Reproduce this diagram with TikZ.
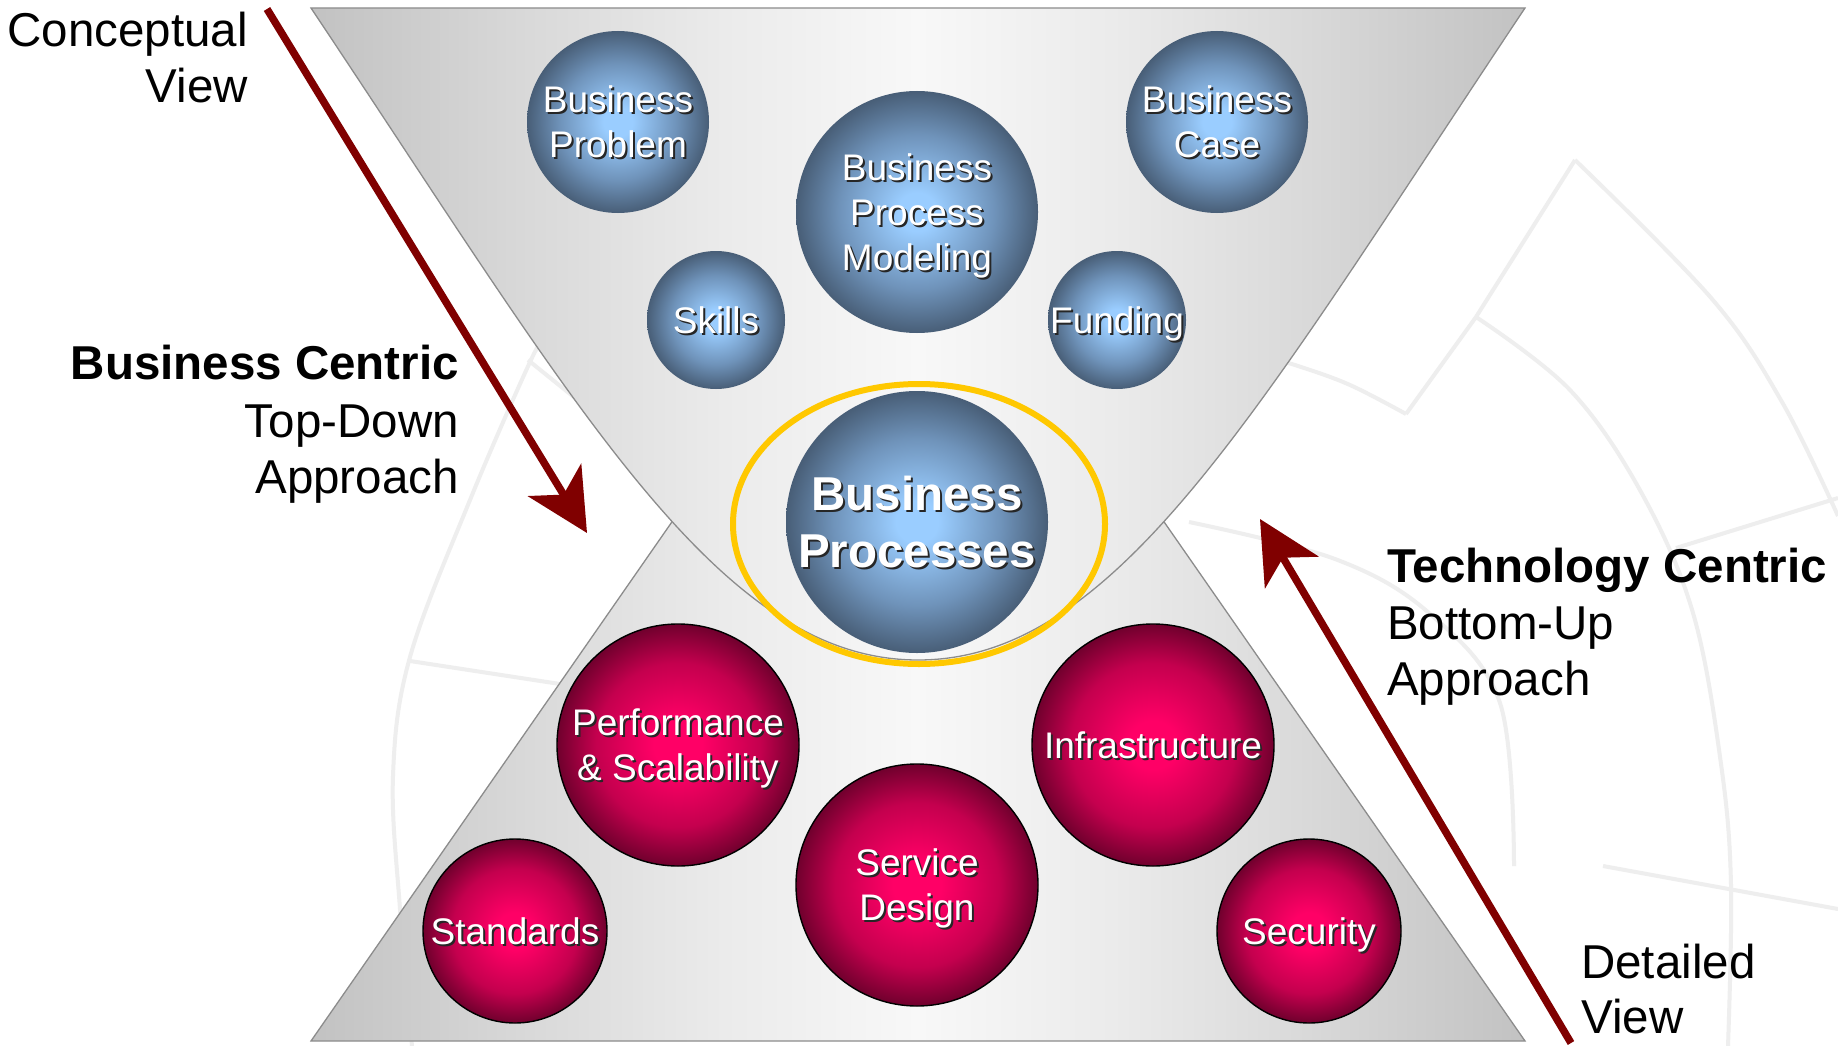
\documentclass[tikz,border=0pt]{standalone}
\usepackage{fontspec}
\setmainfont{Liberation Sans}
\usetikzlibrary{arrows.meta,shapes.geometric}
\definecolor{bsC}{HTML}{9ACDFF}
\definecolor{bsM}{HTML}{6F93BA}
\definecolor{bsE}{HTML}{485E77}
\definecolor{rsC}{HTML}{FF0066}
\definecolor{rsM}{HTML}{C4004E}
\definecolor{rsE}{HTML}{70002D}
\definecolor{ringc}{HTML}{FFC800}
\definecolor{arrowc}{HTML}{800000}
\definecolor{funnelE}{HTML}{C2C2C2}
\definecolor{funnelA}{HTML}{D9D9D9}
\definecolor{funnelB}{HTML}{EBEBEB}
\definecolor{funnelM}{HTML}{F8F8F8}
\definecolor{funnelL}{HTML}{8C8C8C}
\definecolor{wmark}{HTML}{EEEEEE}
\pgfdeclareradialshading{bluesphere}{\pgfpoint{0bp}{0bp}}{color(0bp)=(bsC); color(4bp)=(bsC); color(16bp)=(bsM); color(25bp)=(bsE); color(50bp)=(bsE)}
\pgfdeclareradialshading{redsphere}{\pgfpoint{0bp}{0bp}}{color(0bp)=(rsC); color(5bp)=(rsC); color(17bp)=(rsM); color(25bp)=(rsE); color(50bp)=(rsE)}
\pgfdeclarehorizontalshading{funnelshade}{100bp}{color(0bp)=(funnelE); color(25bp)=(funnelE); color(34bp)=(funnelA); color(42bp)=(funnelB); color(50bp)=(funnelM); color(58bp)=(funnelB); color(66bp)=(funnelA); color(75bp)=(funnelE); color(100bp)=(funnelE)}
\tikzset{
  bsph/.style={circle, inner sep=0pt, shading=bluesphere},
  rsph/.style={circle, inner sep=0pt, shading=redsphere, draw=black, line width=1.4pt},
  ctext/.style={align=center, text=white, font=\fontsize{37}{45}\selectfont, inner sep=0pt, text depth=0pt},
  btext/.style={align=center, text=white, font=\bfseries\fontsize{47.5}{57}\selectfont, inner sep=0pt, text depth=0pt},
  shadowtxt/.style={text=black!85, xshift=2pt, yshift=-2pt},
  sidetext/.style={font=\fontsize{47.5}{57}\selectfont, inner sep=0pt, text=black},
  funnel/.style={draw=funnelL, line width=1.3pt, shading=funnelshade},
  bigarrow/.style={draw=arrowc, line width=7.5pt, -{Stealth[length=62pt, width=62pt, inset=17pt]}},
  ringstyle/.style={ellipse, draw=ringc, line width=6pt, inner sep=0pt},
  wm/.style={draw=wmark, line width=4pt, line join=round},
}
\newcommand\spheretext[4]{% style, name, position, text
  \node[#1, shadowtxt] (#2-sh) at (#3) {#4};
  \node[#1] (#2-tx) at (#3) {#4};}
\begin{document}
\begin{tikzpicture}[x=1pt, y=-1pt]
\useasboundingbox (0,0) rectangle (1838,1046);
\fill[white] (0,0) rectangle (1838,1046);
% faint background watermark
\draw[wm] plot[smooth, tension=0.6] coordinates {(1575,160) (1712,299) (1782,402) (1838,516)};
\draw[wm] (1575,160) -- (1476,317) -- (1406,414);
\draw[wm] plot[smooth, tension=0.6] coordinates {(1406,414) (1350,385) (1298,366) (1250,352)};
\draw[wm] plot[smooth, tension=0.6] coordinates {(1476,317) (1570,390) (1641,492) (1693,613) (1721,764) (1731,885) (1728,1046)};
\draw[wm] plot[smooth, tension=0.6] coordinates {(1189,522) (1335,559) (1429,613) (1500,703) (1514,866)};
\draw[wm] (1603,866) -- (1838,909);
\draw[wm] (1676,548) -- (1838,498);
\draw[wm] plot[smooth, tension=0.6] coordinates {(545,338) (530,362) (470,500) (410,657) (393,776) (400,909) (412,1046)};
\draw[wm] (528,360) -- (580,402);
\draw[wm] (410,661) -- (560,684);
% lower triangle
\path[funnel] (311,1041) -- (918,168) -- (1525,1041) -- cycle;
% upper funnel
\path[funnel] (311,8) -- (1525,8) .. controls (1258,408) and (1118,660) .. (918,660)
   .. controls (718,660) and (578,408) .. (311,8) -- cycle;
% highlight ring
\node[ringstyle, minimum width=372pt, minimum height=280pt] (ring) at (919,524) {};
% blue spheres
\node[bsph, minimum size=182pt] (bprob) at (618,122) {};
\node[bsph, minimum size=182pt] (bcase) at (1217,122) {};
\node[bsph, minimum size=242pt] (bpm) at (917,212) {};
\node[bsph, minimum size=138pt] (skills) at (716,320) {};
\node[bsph, minimum size=138pt] (fund) at (1117,320) {};
\node[bsph, minimum size=262pt] (bproc) at (917,522) {};
% red spheres
\node[rsph, minimum size=242pt] (perf) at (678,745) {};
\node[rsph, minimum size=242pt] (infra) at (1153,745) {};
\node[rsph, minimum size=242pt] (sdes) at (917,885) {};
\node[rsph, minimum size=184pt] (stand) at (515,931) {};
\node[rsph, minimum size=184pt] (secu) at (1309,931) {};
% sphere texts
\spheretext{ctext}{bprob}{bprob}{Business\\Problem}
\spheretext{ctext}{bcase}{bcase}{Business\\Case}
\spheretext{ctext}{bpm}{bpm}{Business\\Process\\Modeling}
\spheretext{ctext}{skills}{skills}{Skills}
\spheretext{ctext}{fund}{fund}{Funding}
\spheretext{btext}{bproc}{bproc}{Business\\Processes}
\spheretext{ctext}{perf}{perf}{Performance\\\&~Scalability}
\spheretext{ctext}{infra}{infra}{Infrastructure}
\spheretext{ctext}{sdes}{sdes}{Service\\Design}
\spheretext{ctext}{stand}{stand}{Standards}
\spheretext{ctext}{secu}{secu}{Security}
% side texts
\node[sidetext, anchor=base east] (concept1) at (248,46.5) {Conceptual};
\node[sidetext, anchor=base east] (concept2) at (248,103) {View};
\node[sidetext, anchor=base east, font=\bfseries\fontsize{47.5}{57}\selectfont] (bc1) at (459,379) {Business Centric};
\node[sidetext, anchor=base east] (bc2) at (459,437) {Top-Down};
\node[sidetext, anchor=base east] (bc3) at (459,493) {Approach};
\node[sidetext, anchor=base west, font=\bfseries\fontsize{47.5}{57}\selectfont] (tc1) at (1387,582) {Technology Centric};
\node[sidetext, anchor=base west] (tc2) at (1387,639) {Bottom-Up};
\node[sidetext, anchor=base west] (tc3) at (1387,695) {Approach};
\node[sidetext, anchor=base west] (det1) at (1581,978) {Detailed};
\node[sidetext, anchor=base west] (det2) at (1581,1033) {View};
% arrows
\coordinate (la-s) at (267,9);
\coordinate (la-e) at (587,533);
\coordinate (ra-s) at (1571,1043);
\coordinate (ra-e) at (1260,519);
\draw[bigarrow] (la-s) -- (la-e);
\draw[bigarrow] (ra-s) -- (ra-e);
\end{tikzpicture}
\end{document}
